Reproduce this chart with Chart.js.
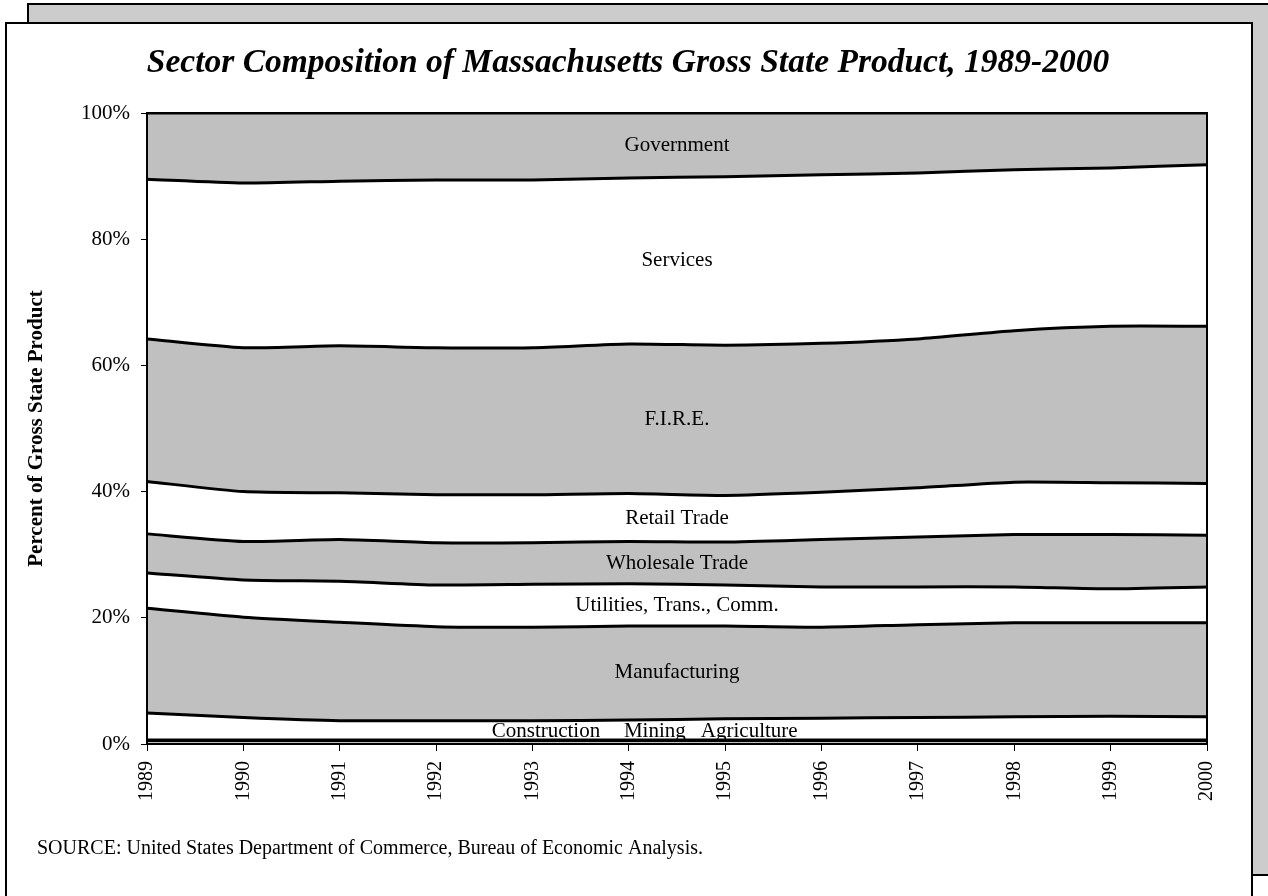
<!DOCTYPE html>
<html>
<head>
<meta charset="utf-8">
<script src="https://cdn.jsdelivr.net/npm/chart.js@4/dist/chart.umd.min.js"></script>
<style>
  html, body { margin: 0; padding: 0; background: #fff; width: 1268px; height: 896px; overflow: hidden; }
  .back  { position: absolute; left: 27px; top: 3px; width: 1300px; height: 869px; background: #cccccc; border: 2px solid #000; }
  .front { position: absolute; left: 5px; top: 22px; width: 1244px; height: 900px; background: #fff; border: 2px solid #000; }
  #chart { position: absolute; left: 0; top: 0; }
</style>
</head>
<body>
<div class="back"></div>
<div class="front"></div>
<canvas id="chart" width="1268" height="896"></canvas>
<script>
// ── Massachusetts GSP by sector, share of total (%) ───────────────────────────
const years = ['1989','1990','1991','1992','1993','1994','1995','1996','1997','1998','1999','2000'];

const agriculture   = [0.5, 0.5, 0.5, 0.5, 0.5, 0.5, 0.5, 0.5, 0.5, 0.5, 0.5, 0.5];
const mining        = [0.15,0.15,0.15,0.15,0.15,0.15,0.15,0.15,0.15,0.15,0.15,0.15];
const construction  = [4.25,3.55,3.05,3.05,3.05,3.15,3.35,3.45,3.55,3.65,3.75,3.65];
const manufacturing = [16.6,15.9,15.6,14.9,14.8,14.9,14.7,14.4,14.7,14.9,14.8,14.9];
const utilities     = [5.6, 5.9, 6.5, 6.6, 6.8, 6.7, 6.5, 6.4, 6.0, 5.7, 5.4, 5.7];
const wholesale     = [6.2, 6.1, 6.6, 6.7, 6.6, 6.7, 6.8, 7.5, 7.9, 8.3, 8.6, 8.2];
const retail        = [8.3, 7.9, 7.4, 7.6, 7.6, 7.6, 7.4, 7.5, 7.8, 8.3, 8.2, 8.2];
const fire          = [22.6,22.8,23.3,23.3,23.3,23.7,23.8,23.6,23.6,24.0,24.8,24.9];
const services      = [25.3,26.1,26.1,26.6,26.6,26.3,26.7,26.7,26.3,25.5,25.1,25.6];
const government    = [10.5,11.1,10.8,10.6,10.6,10.3,10.1,9.8, 9.5, 9.0, 8.7, 8.2];

const yTicks = [0, 20, 40, 60, 80, 100];

const GRAY = '#c0c0c0';
const SERIF = "'Liberation Serif', 'Times New Roman', serif";

// bottom → top of the stack; name null = written by hand in the bottom row
const SERIES = [
  { label: 'Agriculture',              data: agriculture,   fill: '#ffffff', name: null },
  { label: 'Mining',                   data: mining,        fill: GRAY,      name: null },
  { label: 'Construction',             data: construction,  fill: '#ffffff', name: null },
  { label: 'Manufacturing',            data: manufacturing, fill: GRAY,      name: 'Manufacturing' },
  { label: 'Utilities, Trans., Comm.', data: utilities,     fill: '#ffffff', name: 'Utilities, Trans., Comm.' },
  { label: 'Wholesale Trade',          data: wholesale,     fill: GRAY,      name: 'Wholesale Trade' },
  { label: 'Retail Trade',             data: retail,        fill: '#ffffff', name: 'Retail Trade' },
  { label: 'F.I.R.E.',                 data: fire,          fill: GRAY,      name: 'F.I.R.E.' },
  { label: 'Services',                 data: services,      fill: '#ffffff', name: 'Services' },
  { label: 'Government',               data: government,    fill: GRAY,      name: 'Government' },
];

// the three thin bands share one text row just above the axis: [text, x (year index), y (%)]
const BOTTOM_NAMES = [
  ['Construction', 4.14, 2.05],
  ['Mining',       5.27, 2.05],
  ['Agriculture',  6.25, 2.05],
];

// texts and frame drawn on top of the areas
const decor = {
  id: 'decor',
  afterDatasetsDraw(chart) {
    const { ctx, chartArea: a, scales: { x, y } } = chart;
    ctx.save();

    ctx.strokeStyle = '#000';
    ctx.lineWidth = 2;
    ctx.strokeRect(a.left, a.top, a.right - a.left, a.bottom - a.top);

    ctx.fillStyle = '#000';
    ctx.textAlign = 'center';
    ctx.textBaseline = 'middle';
    ctx.font = '21px ' + SERIF;

    // band names sit at the middle of their band, halfway across the plot
    const mid = (years.length - 1) / 2;
    const i0 = Math.floor(mid), i1 = Math.ceil(mid);
    const base = years.map(() => 0);
    SERIES.forEach(s => {
      const m0 = base[i0] + s.data[i0] / 2, m1 = base[i1] + s.data[i1] / 2;
      if (s.name) ctx.fillText(s.name, (a.left + a.right) / 2, y.getPixelForValue((m0 + m1) / 2));
      s.data.forEach((v, i) => base[i] += v);
    });
    BOTTOM_NAMES.forEach(([t, xi, yv]) => ctx.fillText(t, x.getPixelForValue(xi), y.getPixelForValue(yv)));

    ctx.font = 'italic bold 33.5px ' + SERIF;
    ctx.fillText('Sector Composition of Massachusetts Gross State Product, 1989-2000', 628, 63);

    ctx.textAlign = 'left';
    ctx.font = '20px ' + SERIF;
    ctx.fillText('SOURCE: United States Department of Commerce, Bureau of Economic Analysis.', 37, 849);
    ctx.restore();
  },
};

new Chart(document.getElementById('chart'), {
  type: 'line',
  data: {
    labels: years,
    datasets: SERIES.map((s, i) => ({
      label: s.label,
      data: s.data,
      fill: i === 0 ? 'origin' : '-1',
      backgroundColor: s.fill,
      borderColor: '#000',
      borderWidth: 3,
      pointRadius: 0,
      tension: 0.2,
    })),
  },
  options: {
    responsive: false,
    animation: false,
    layout: { padding: { left: 24, right: 61, top: 113, bottom: 92 } },
    plugins: { legend: { display: false }, tooltip: { enabled: false } },
    scales: {
      x: {
        offset: false,
        grid: { drawOnChartArea: false, drawTicks: true, tickLength: 7, tickColor: '#000' },
        border: { display: true, color: '#000', width: 2 },
        ticks: { color: '#000', font: { family: SERIF, size: 20 }, minRotation: 90, maxRotation: 90, padding: 10, autoSkip: false },
        afterFit: s => { s.height = 60; },
      },
      y: {
        stacked: true,
        min: 0, max: 100,
        afterBuildTicks: s => { s.ticks = yTicks.map(v => ({ value: v })); },
        grid: { drawOnChartArea: false, drawTicks: true, tickLength: 6, tickColor: '#000' },
        border: { display: true, color: '#000', width: 2 },
        ticks: { color: '#000', font: { family: SERIF, size: 21 }, padding: 11, callback: v => v + '%' },
        title: { display: true, text: 'Percent of Gross State Product', color: '#000',
                 font: { family: SERIF, size: 21, weight: 'bold' }, padding: 0 },
        afterFit: s => { s.width = 123; },
      },
    },
  },
  plugins: [decor],
});
</script>
</body>
</html>
